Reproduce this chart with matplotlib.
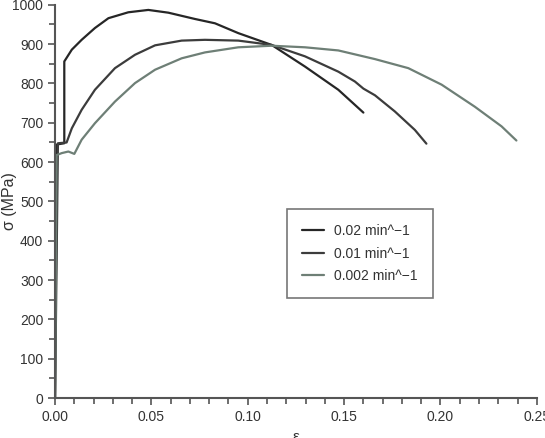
import numpy as np
import matplotlib.pyplot as plt
from matplotlib.ticker import MultipleLocator

plt.rcParams['font.family'] = ['Liberation Sans', 'DejaVu Sans']

# Curvas tensão-deformação (ε, σ em MPa)
eps_002 = [0.0, 0.001, 0.0048, 0.0048, 0.0087, 0.0138, 0.0207, 0.0277, 0.038,
           0.0484, 0.0588, 0.0657, 0.0726, 0.083, 0.0951, 0.1124, 0.1297,
           0.147, 0.16]
sig_002 = [0, 645, 648, 856, 886, 911, 941, 966, 981,
           987, 980, 972, 964, 953, 928, 898, 843,
           784, 726]

eps_001 = [0.0, 0.0015, 0.006, 0.0087, 0.0138, 0.0207, 0.0311, 0.0415, 0.0519,
           0.0657, 0.0778, 0.0951, 0.1124, 0.1297, 0.147, 0.1556, 0.16,
           0.166, 0.1763, 0.1867, 0.1927]
sig_001 = [0, 648, 650, 686, 733, 784, 839, 873, 897,
           909, 911, 909, 898, 869, 830, 805, 787,
           770, 729, 682, 647]

eps_0002 = [0.0, 0.0008, 0.0035, 0.0069, 0.01, 0.0138, 0.0207, 0.0311, 0.0415,
            0.0519, 0.0657, 0.0778, 0.0951, 0.1124, 0.1297, 0.147, 0.166,
            0.1833, 0.2006, 0.2178, 0.2317, 0.2394]
sig_0002 = [0, 618, 623, 627, 621, 657, 699, 754, 801,
            835, 864, 879, 892, 896, 892, 884, 862,
            839, 797, 741, 691, 655]

rotulos = ['0.02 min^\u22121', '0.01 min^\u22121', '0.002 min^\u22121']
cores = ['#262626', '#3c3c3c', '#6e7f76']

fig = plt.figure(figsize=(5.45, 4.38), dpi=100)
ax = fig.add_axes([0.101, 0.091, 0.884, 0.898])

for eps, sig, cor, rot in [(eps_002, sig_002, cores[0], rotulos[0]),
                           (eps_001, sig_001, cores[1], rotulos[1]),
                           (eps_0002, sig_0002, cores[2], rotulos[2])]:
    ax.plot(eps, sig, color=cor, lw=1.6, label=rot,
            solid_joinstyle='round', solid_capstyle='round')

ax.set_xlim(0, 0.25)
ax.set_ylim(0, 1000)
ax.xaxis.set_major_locator(MultipleLocator(0.05))
ax.xaxis.set_minor_locator(MultipleLocator(0.01))
ax.yaxis.set_major_locator(MultipleLocator(100))
ax.yaxis.set_minor_locator(MultipleLocator(50))
ax.xaxis.set_major_formatter(plt.FuncFormatter(lambda v, p: f'{v:.2f}'))

for lado in ['top', 'right']:
    ax.spines[lado].set_visible(False)
for lado in ['left', 'bottom']:
    ax.spines[lado].set_color('#555555')
    ax.spines[lado].set_linewidth(1.5)
ax.tick_params(which='both', direction='out', color='#555555', width=1.2,
               labelsize=10, labelcolor='#333333')
ax.tick_params(which='major', length=5)
ax.tick_params(which='minor', length=4)

ax.set_xlabel('\u03b5', fontsize=11, color='#333333', labelpad=4)
ax.set_ylabel('\u03c3 (MPa)', fontsize=11.5, color='#333333')
ax.yaxis.set_label_coords(-0.078, 0.5)

leg = ax.legend(loc='lower left', bbox_to_anchor=(0.481, 0.254), fontsize=10,
                frameon=True, fancybox=False, edgecolor='#555555',
                handlelength=1.6, handletextpad=0.7, labelspacing=0.6,
                borderpad=1.1, borderaxespad=0)
leg.get_frame().set_linewidth(1.2)
for t in leg.get_texts():
    t.set_color('#333333')

fig.savefig('out.png', dpi=100)
